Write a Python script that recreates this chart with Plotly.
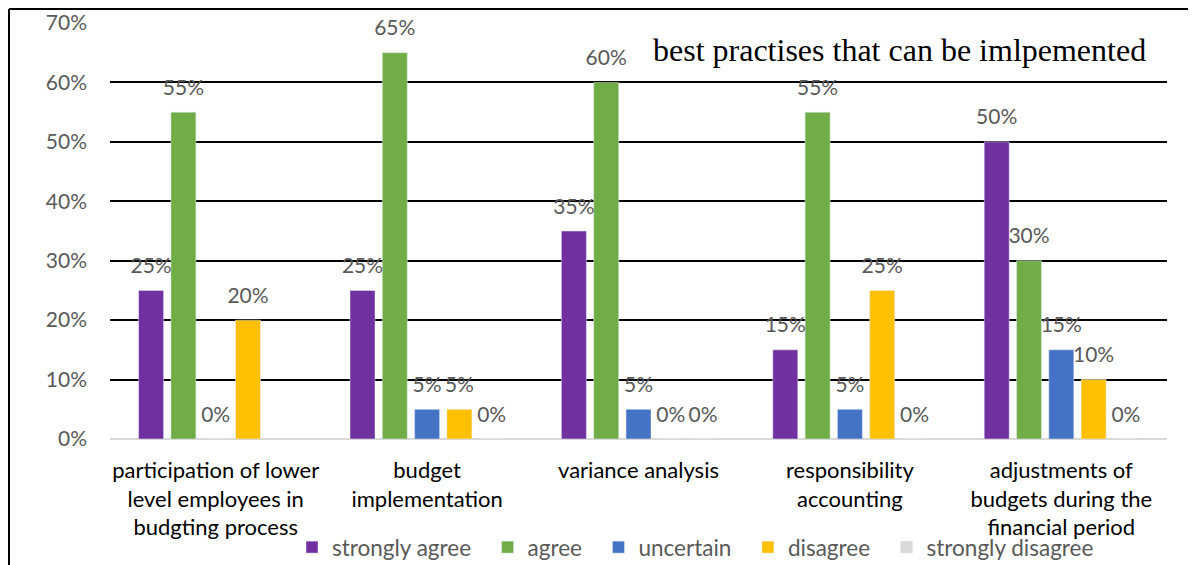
import plotly.graph_objects as go

categories = [
    "participation of lower<br>level employees in<br>budgting process",
    "budget<br>implementation",
    "variance analysis",
    "responsibility<br>accounting",
    "adjustments of<br>budgets during the<br>financial period",
]
series_names = ["strongly agree", "agree", "uncertain", "disagree", "strongly disagree"]
strongly_agree = [0.25, 0.25, 0.35, 0.15, 0.50]
agree = [0.55, 0.65, 0.60, 0.55, 0.30]
uncertain = [0.00, 0.05, 0.05, 0.05, 0.15]
disagree = [0.20, 0.05, 0.00, 0.25, 0.10]
strongly_disagree = [None, 0.00, 0.00, 0.00, 0.00]
colors = ["#7030A0", "#70AD47", "#4472C4", "#FFC000", "#D9D9D9"]
title_text = "best practises that can be imlpemented"

values = [strongly_agree, agree, uncertain, disagree, strongly_disagree]

# the page body adds an 8px offset, so the figure is 8px smaller and shifted
OFF = 8
W, H = 1196 - OFF, 565 - OFF
L, R, T, B = 110 - OFF, 29, 23 - OFF, 126
PW, PH = W - L - R, H - T - B

def px_x(p):  # page pixel -> paper
    return (p - OFF - L) / PW

def px_y(p):
    return (H - B - (p - OFF)) / PH

LEGEND_PAD = "\u00a0\u00a0"

fig = go.Figure()
for name, vals, col in zip(series_names, values, colors):
    fig.add_trace(go.Bar(
        x=categories, y=vals, name=name + LEGEND_PAD, marker_color=col,
        cliponaxis=False,
    ))
# data labels, grouped to sit over their bars
for name, vals in zip(series_names, values):
    fig.add_trace(go.Scatter(
        x=categories, y=vals, name=name + " labels", mode="markers+text",
        text=[("" if v is None else f"{round(v*100)}%") for v in vals],
        textposition="top center",
        marker=dict(size=18, opacity=0),
        textfont=dict(family="Lato", size=21, color="#595959"),
        showlegend=False, hoverinfo="skip", cliponaxis=False,
    ))

fig.update_layout(
    width=W, height=H,
    paper_bgcolor="white", plot_bgcolor="white",
    barmode="group", bargap=0.236, bargroupgap=0.226,
    scattermode="group", scattergap=0.236,
    margin=dict(l=L, r=R, t=T, b=B, autoexpand=False),
    showlegend=True,
    legend=dict(orientation="h", x=px_x(292), xanchor="left",
                y=-(B + 4) / PH, yanchor="bottom",
                bgcolor="rgba(0,0,0,0)",
                font=dict(family="Lato", size=22.5, color="#595959"),
                itemwidth=30, traceorder="normal", tracegroupgap=0),
    font=dict(family="Lato"),
)
fig.update_yaxes(range=[0, 0.7], dtick=0.1, tickformat=".0%",
                 showgrid=True, gridcolor="black", gridwidth=1.5,
                 zeroline=True, zerolinecolor="#D9D9D9", zerolinewidth=1.5,
                 tickfont=dict(family="Lato", size=21, color="#595959"),
                 ticks="", ticklabelstandoff=22, showline=False,
                 automargin=False)
fig.update_xaxes(tickfont=dict(family="Lato", size=22, color="black"),
                 showline=False, ticks="", ticklabelstandoff=16,
                 automargin=False)

fig.add_annotation(text=title_text, xref="paper", yref="paper",
                   x=px_x(1148), y=px_y(50), xanchor="right", yanchor="middle",
                   showarrow=False,
                   font=dict(family="Liberation Serif", size=32, color="black"))

# frame lines (left and top)
fig.add_shape(type="line", xref="paper", yref="paper",
              x0=px_x(9), x1=px_x(9), y0=px_y(9), y1=px_y(580),
              line=dict(color="black", width=2))
fig.add_shape(type="line", xref="paper", yref="paper",
              x0=px_x(9), x1=px_x(1210), y0=px_y(9), y1=px_y(9),
              line=dict(color="black", width=2))

fig.write_html("out.html")
